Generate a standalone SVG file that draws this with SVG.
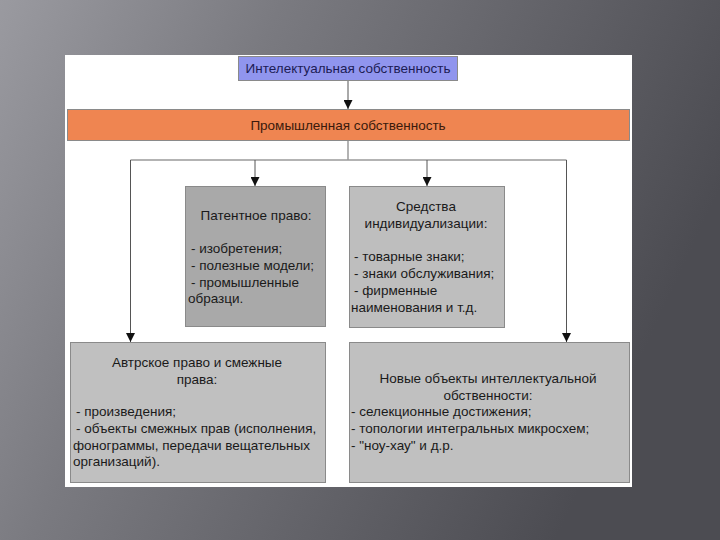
<svg xmlns="http://www.w3.org/2000/svg" width="720" height="540" viewBox="0 0 720 540">
<defs>
<linearGradient id="bg" x1="0" y1="0" x2="1" y2="0.35">
<stop offset="0" stop-color="#9a9aa0"/>
<stop offset="0.35" stop-color="#7a7a80"/>
<stop offset="1" stop-color="#4c4c52"/>
</linearGradient>
<marker id="ah" viewBox="0 0 10 10" refX="10" refY="5" markerWidth="9" markerHeight="9" markerUnits="userSpaceOnUse" orient="auto">
<path d="M0,0 L10,5 L0,10 Z" fill="#111"/>
</marker>
<style>
.t{font-family:"Liberation Sans",Arial,sans-serif;font-size:13.5px;fill:#1a1a1a}
.c{text-anchor:middle}
.box{stroke:#8a8a8a;stroke-width:1}
.ln{fill:none;stroke:#9a9a9a;stroke-width:1.5}
.ar{fill:none;stroke:#555;stroke-width:1;marker-end:url(#ah)}
</style>
</defs>
<rect width="720" height="540" fill="url(#bg)"/>
<rect x="65" y="55" width="567" height="432" fill="#ffffff"/>
<g id="connectors">
<path class="ar" d="M348,81 V109"/>
<path class="ln" d="M348,141 V160"/>
<path class="ln" d="M130.5,160 H566.5"/>
<path class="ar" d="M255,160 V186"/>
<path class="ar" d="M427,160 V186"/>
<path class="ar" d="M130.5,160 V342"/>
<path class="ar" d="M566.5,160 V342"/>
</g>
<g id="intellectual">
<rect class="box" x="238.5" y="56.5" width="219" height="24" fill="#9095ee"/>
<text class="t c" x="348" y="73" style="fill:#1c1c55">Интелектуальная собственность</text>
</g>
<g id="industrial">
<rect class="box" x="67.5" y="109.5" width="562" height="31" fill="#ef8551" stroke="#c06a40"/>
<text class="t c" x="348" y="130" style="fill:#3a1a0c">Промышленная собственность</text>
</g>
<g id="patent">
<rect class="box" x="185.5" y="186.5" width="140" height="140" fill="#a9a9a9"/>
<text class="t c" x="256" y="220">Патентное право:</text>
<text class="t" x="191" y="253">- изобретения;</text>
<text class="t" x="191" y="270">- полезные модели;</text>
<text class="t" x="191" y="287">- промышленные</text>
<text class="t" x="188" y="303">образци.</text>
</g>
<g id="individualization">
<rect class="box" x="349.5" y="186.5" width="155" height="141" fill="#bebebe"/>
<text class="t c" x="426" y="211">Средства</text>
<text class="t c" x="426" y="228">индивидуализации:</text>
<text class="t" x="354" y="261">- товарные знаки;</text>
<text class="t" x="354" y="278">- знаки обслуживания;</text>
<text class="t" x="354" y="295">- фирменные</text>
<text class="t" x="351" y="312">наименования и т.д.</text>
</g>
<g id="copyright">
<rect class="box" x="70.5" y="342.5" width="255" height="140" fill="#c0c0c0"/>
<text class="t c" x="197" y="367">Автрское право и смежные</text>
<text class="t c" x="197" y="384">права:</text>
<text class="t" x="76" y="416">- произведения;</text>
<text class="t" x="76" y="433">- объекты смежных прав (исполнения,</text>
<text class="t" x="73" y="450">фонограммы, передачи вещательных</text>
<text class="t" x="73" y="466">организаций).</text>
</g>
<g id="new-objects">
<rect class="box" x="349.5" y="342.5" width="280" height="140" fill="#c0c0c0"/>
<text class="t c" x="488" y="383">Новые объекты интеллектуальной</text>
<text class="t c" x="488" y="400">обственности:</text>
<text class="t" x="351" y="416">- селекционные достижения;</text>
<text class="t" x="351" y="433">- топологии интегральных микросхем;</text>
<text class="t" x="351" y="450">- "ноу-хау" и д.р.</text>
</g>
</svg>
